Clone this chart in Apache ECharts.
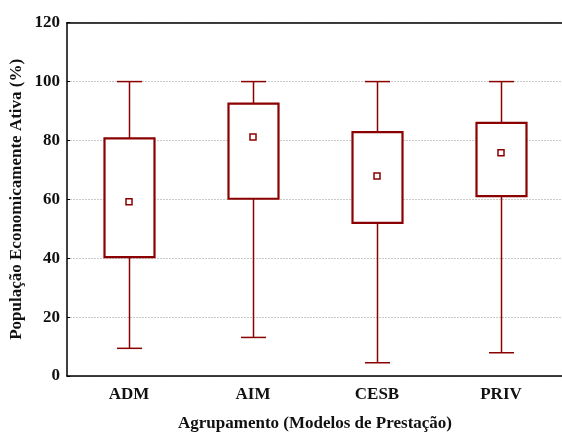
<!DOCTYPE html>
<html><head><meta charset="utf-8">
<script src="https://cdn.jsdelivr.net/npm/echarts@6/dist/echarts.min.js"></script>
<style>html,body{margin:0;padding:0;background:#fff}#c{width:562px;height:432px}</style>
</head><body><div id="c"></div>
<script>
var categories = ['ADM', 'AIM', 'CESB', 'PRIV'];
var whiskerLow = [9.4, 13.1, 4.5, 7.9];
var q1 = [40.4, 60.2, 52.0, 61.1];
var q3 = [80.7, 92.5, 82.8, 86.0];
var whiskerHigh = [100, 100, 100, 100];
var means = [59.2, 81.2, 67.9, 75.8];
var yTicks = [0, 20, 40, 60, 80, 100, 120];

var boxData = categories.map(function (c, i) { return [i, whiskerLow[i], q1[i], q3[i], whiskerHigh[i]]; });
var meanData = categories.map(function (c, i) { return [i, means[i]]; });
var RED = '#8b0000';
var FONT = '"Liberation Serif", "Times New Roman", serif';

var chart = echarts.init(document.getElementById('c'), null, {renderer: 'canvas'});
chart.setOption({
  animation: false,
  backgroundColor: '#fff',
  grid: {left: 67, top: 22.7, width: 496, bottom: 56, containLabel: false, outerBoundsMode: 'none'},
  xAxis: [{
    type: 'category', data: categories, boundaryGap: true, position: 'bottom',
    axisLine: {lineStyle: {color: '#000', width: 1.5}},
    axisTick: {alignWithLabel: true, inside: true, length: 3, lineStyle: {color: '#000'}},
    axisLabel: {color: '#111', fontFamily: FONT, fontWeight: 'bold', fontSize: 17, margin: 10},
    name: 'Agrupamento (Modelos de Prestação)', nameLocation: 'middle', nameGap: 39,
    nameTextStyle: {color: '#111', fontFamily: FONT, fontWeight: 'bold', fontSize: 17},
    splitLine: {show: false}
  }, {
    type: 'category', data: categories, boundaryGap: true, position: 'top',
    axisLine: {lineStyle: {color: '#000', width: 1.5}},
    axisTick: {alignWithLabel: true, inside: true, length: 3, lineStyle: {color: '#000'}},
    axisLabel: {show: false}, splitLine: {show: false}
  }],
  yAxis: {
    type: 'value', min: 0, max: 120, interval: 20,
    axisLine: {show: true, lineStyle: {color: '#000', width: 1.5}},
    axisTick: {show: true, inside: true, length: 3, lineStyle: {color: '#000'}},
    axisLabel: {color: '#111', fontFamily: FONT, fontWeight: 'bold', fontSize: 17, margin: 7,
      formatter: function (v) { return yTicks.indexOf(v) >= 0 ? String(v) : ''; }},
    splitLine: {show: true, lineStyle: {color: '#cacaca', type: [2, 1], width: 1}},
    name: 'População Economicamente Ativa (%)', nameLocation: 'middle', nameGap: 42,
    nameMoveOverlap: false,
    nameTextStyle: {color: '#111', fontFamily: FONT, fontWeight: 'bold', fontSize: 17}
  },
  series: [{
    type: 'custom',
    xAxisIndex: 0,
    data: boxData,
    encode: {x: 0, y: [1, 2, 3, 4]},
    renderItem: function (params, api) {
      var x = api.value(0);
      var pLow = api.coord([x, api.value(1)]);
      var pQ1 = api.coord([x, api.value(2)]);
      var pQ3 = api.coord([x, api.value(3)]);
      var pHigh = api.coord([x, api.value(4)]);
      var cx = Math.round(pLow[0]) + 0.5;
      var bw = 50, cw = 25;
      var thin = {stroke: RED, lineWidth: 1.5, fill: null};
      return {
        type: 'group',
        children: [
          {type: 'line', shape: {x1: cx, y1: pHigh[1], x2: cx, y2: pQ3[1]}, style: thin},
          {type: 'line', shape: {x1: cx, y1: pQ1[1], x2: cx, y2: pLow[1]}, style: thin},
          {type: 'line', shape: {x1: cx - cw / 2, y1: pHigh[1], x2: cx + cw / 2, y2: pHigh[1]}, style: thin},
          {type: 'line', shape: {x1: cx - cw / 2, y1: pLow[1], x2: cx + cw / 2, y2: pLow[1]}, style: thin},
          {type: 'rect', shape: {x: cx - bw / 2, y: pQ3[1], width: bw, height: pQ1[1] - pQ3[1]},
            style: {stroke: RED, lineWidth: 2.2, fill: '#fff'}}
        ]
      };
    },
    z: 2
  }, {
    type: 'scatter',
    xAxisIndex: 0,
    data: meanData,
    symbol: 'rect', symbolSize: 6,
    itemStyle: {color: '#fff', borderColor: RED, borderWidth: 1.5, opacity: 1},
    z: 3
  }]
});
</script></body></html>
